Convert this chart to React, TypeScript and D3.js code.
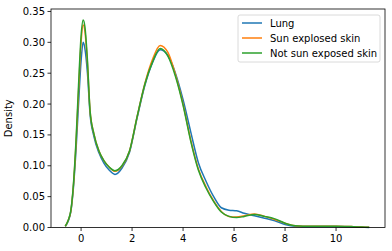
import * as d3 from 'd3';

// Shared evaluation grid (x) and density estimates
const xs = [
  -0.62, -0.5, -0.4, -0.3, -0.2, -0.1, 0, 0.08, 0.15, 0.25, 0.35, 0.5, 0.7, 0.9, 1.1, 1.33,
  1.6, 1.9, 2.2, 2.5, 2.8, 3.1, 3.4, 3.7, 4.0, 4.3, 4.6, 4.9, 5.2, 5.5, 5.8, 6.1, 6.4, 6.8,
  7.2, 7.6, 8.0, 8.4, 9.0, 10.0, 10.6, 11.0, 11.3,
];

const lung = [
  0.002, 0.011, 0.026, 0.065, 0.125, 0.2, 0.27, 0.3, 0.29, 0.25, 0.185, 0.148, 0.121, 0.104,
  0.093, 0.086, 0.096, 0.122, 0.178, 0.23, 0.267, 0.288, 0.279, 0.25, 0.207, 0.155, 0.105,
  0.075, 0.05, 0.032, 0.028, 0.027, 0.023, 0.019, 0.015, 0.011, 0.005, 0.002, 0.0015, 0.0015,
  0.0012, 0.0008, 0.0002,
];

const sunExposed = [
  0.002, 0.012, 0.027, 0.068, 0.135, 0.22, 0.3, 0.328, 0.318, 0.265, 0.19, 0.152, 0.124, 0.108,
  0.098, 0.091, 0.099, 0.124, 0.18, 0.233, 0.272, 0.295, 0.284, 0.248, 0.2, 0.142, 0.095,
  0.066, 0.043, 0.026, 0.018, 0.017, 0.019, 0.022, 0.018, 0.013, 0.007, 0.003, 0.002, 0.002,
  0.0015, 0.001, 0.0003,
];

const notSunExposed = [
  0.002, 0.012, 0.028, 0.07, 0.14, 0.23, 0.31, 0.336, 0.325, 0.27, 0.19, 0.152, 0.124, 0.108,
  0.098, 0.092, 0.1, 0.124, 0.18, 0.232, 0.268, 0.29, 0.278, 0.245, 0.198, 0.14, 0.093,
  0.064, 0.042, 0.025, 0.018, 0.016, 0.018, 0.021, 0.018, 0.014, 0.007, 0.003, 0.002, 0.002,
  0.0015, 0.001, 0.0003,
];

const seriesNames = ['Lung', 'Sun explosed skin', 'Not sun exposed skin'];
const seriesColors = ['#1f77b4', '#ff7f0e', '#2ca02c'];
const xTicks = [0, 2, 4, 6, 8, 10];
const yTicks = [0, 0.05, 0.1, 0.15, 0.2, 0.25, 0.3, 0.35];

const W = 392;
const H = 251;
const margin = { top: 9, right: 7, bottom: 23.5, left: 51 };

export default function App() {
  const innerW = W - margin.left - margin.right;
  const innerH = H - margin.top - margin.bottom;

  const x = d3.scaleLinear().domain([-1.18, 11.92]).range([0, innerW]);
  const y = d3.scaleLinear().domain([0, 0.354]).range([innerH, 0]);

  const line = d3
    .line<number>()
    .x((_, i) => x(xs[i]))
    .y((d) => y(d))
    .curve(d3.curveMonotoneX);

  const series = [lung, sunExposed, notSunExposed];
  const font = 'DejaVu Sans, sans-serif';

  return (
    <svg
      width={W}
      height={H}
      style={{ position: 'absolute', left: 0, top: 0, background: '#fff' }}
      fontFamily={font}
    >
      <g transform={`translate(${margin.left},${margin.top})`}>
        {series.map((s, i) => (
          <path
            key={seriesNames[i]}
            d={line(s) || ''}
            fill="none"
            stroke={seriesColors[i]}
            strokeWidth={1.5}
            strokeLinejoin="round"
          />
        ))}

        {/* spines */}
        <rect x={0} y={0} width={innerW} height={innerH} fill="none" stroke="#000" strokeWidth={0.8} />

        {/* x axis */}
        {xTicks.map((t) => (
          <g key={t} transform={`translate(${x(t)},${innerH})`}>
            <line y2={3.5} stroke="#000" strokeWidth={0.8} />
            <text y={14.5} textAnchor="middle" fontSize={10} fill="#000">
              {t}
            </text>
          </g>
        ))}

        {/* y axis */}
        {yTicks.map((t) => (
          <g key={t} transform={`translate(0,${y(t)})`}>
            <line x2={-3.5} stroke="#000" strokeWidth={0.8} />
            <text x={-6} dy="0.35em" textAnchor="end" fontSize={10} fill="#000">
              {t.toFixed(2)}
            </text>
          </g>
        ))}

        <text
          transform={`translate(${-39},${innerH / 2}) rotate(-90)`}
          textAnchor="middle"
          fontSize={10}
          fill="#000"
        >
          Density
        </text>

        {/* legend */}
        <g transform={`translate(${innerW - 147},${6})`}>
          <rect x={0} y={0} width={142} height={47} rx={2} fill="#fff" fillOpacity={0.8} stroke="#d0d0d0" strokeWidth={0.8} />
          {seriesNames.map((name, i) => (
            <g key={name} transform={`translate(0,${8 + i * 15})`}>
              <line x1={4} x2={24} stroke={seriesColors[i]} strokeWidth={1.5} />
              <text x={32} dy="0.35em" fontSize={10} fill="#000">
                {name}
              </text>
            </g>
          ))}
        </g>
      </g>
    </svg>
  );
}
